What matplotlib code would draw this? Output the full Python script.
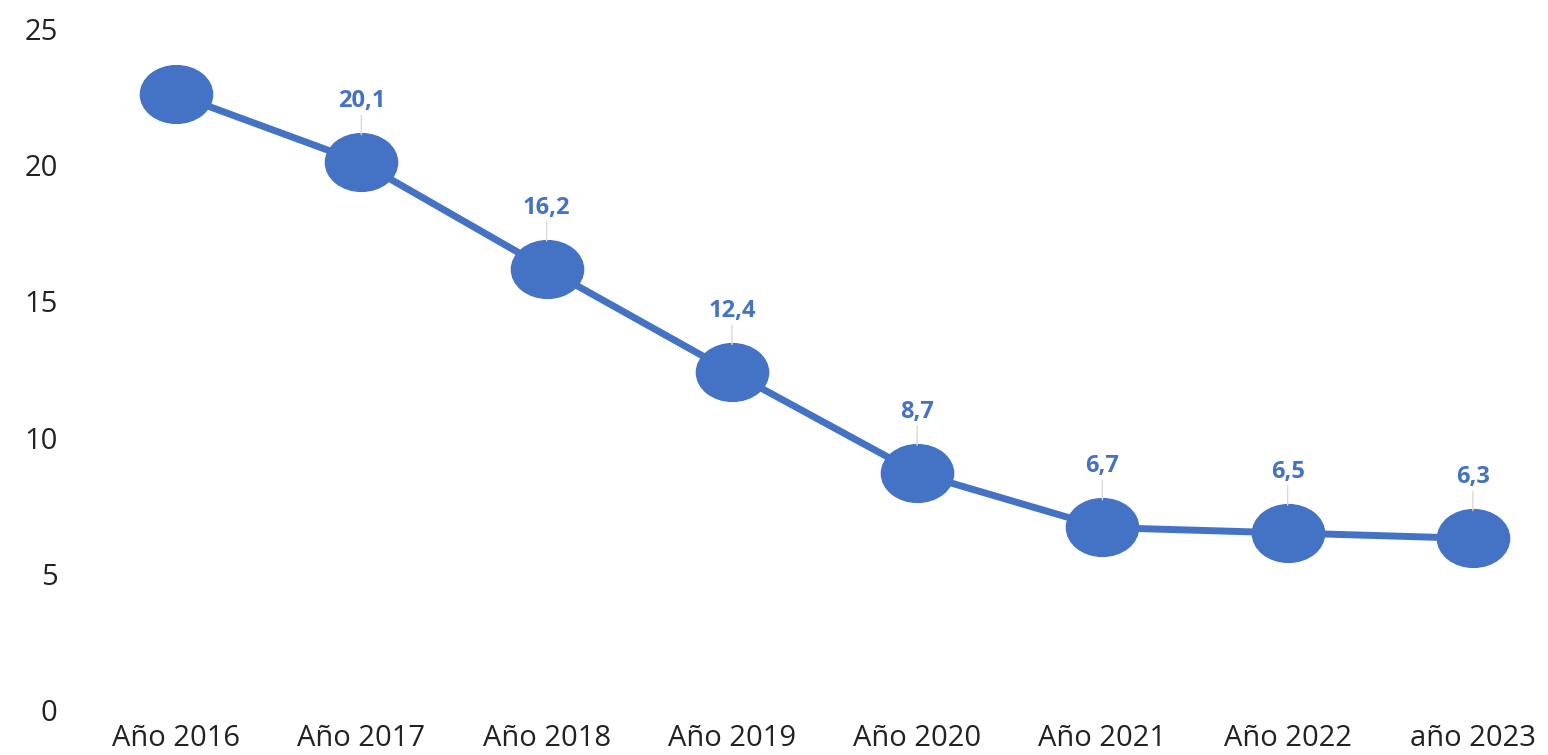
import numpy as np
import matplotlib.pyplot as plt
from matplotlib.path import Path
from matplotlib.transforms import Affine2D

years = ["Año 2016", "Año 2017", "Año 2018", "Año 2019", "Año 2020",
         "Año 2021", "Año 2022", "año 2023"]
values = [22.6, 20.1, 16.2, 12.4, 8.7, 6.7, 6.5, 6.3]
labels = [None, "20,1", "16,2", "12,4", "8,7", "6,7", "6,5", "6,3"]

blue = "#4472C4"
plt.rcParams['font.family'] = ['Open Sans', 'DejaVu Sans']

# slightly wide ellipse marker
ellipse = Path.unit_circle().transformed(Affine2D().scale(1.25, 1.0))

fig = plt.figure(figsize=(15.48, 7.55), dpi=100)
ax = fig.add_axes([102 / 1548, 45 / 755, 1445 / 1548, 681 / 755])

x = np.arange(len(years))
ax.plot(x, values, color=blue, lw=5, marker=ellipse, markersize=52,
        markerfacecolor=blue, markeredgecolor=blue, zorder=3)

for xi, v, lab in zip(x, values, labels):
    if lab is None:
        continue
    ax.annotate(lab, (xi, v), xytext=(0, 44), textcoords="offset points",
                ha="center", va="center", fontsize=17, fontweight="bold",
                color=blue)
    # thin leader line
    ax.annotate("", (xi, v), xytext=(0, 34), textcoords="offset points",
                arrowprops=dict(arrowstyle="-", color="#d9d9d9", lw=1,
                                shrinkA=0, shrinkB=20))

ax.set_xlim(-0.4, 7.4)
ax.set_ylim(0, 25)
ax.set_yticks([0, 5, 10, 15, 20, 25])
ax.set_xticks(x)
ax.set_xticklabels(years)
ax.tick_params(axis="both", length=0, labelsize=21, colors="#222222")
ax.tick_params(axis="y", pad=32)
ax.tick_params(axis="x", pad=10)
for s in ax.spines.values():
    s.set_visible(False)

fig.savefig("out.png", dpi=100)
